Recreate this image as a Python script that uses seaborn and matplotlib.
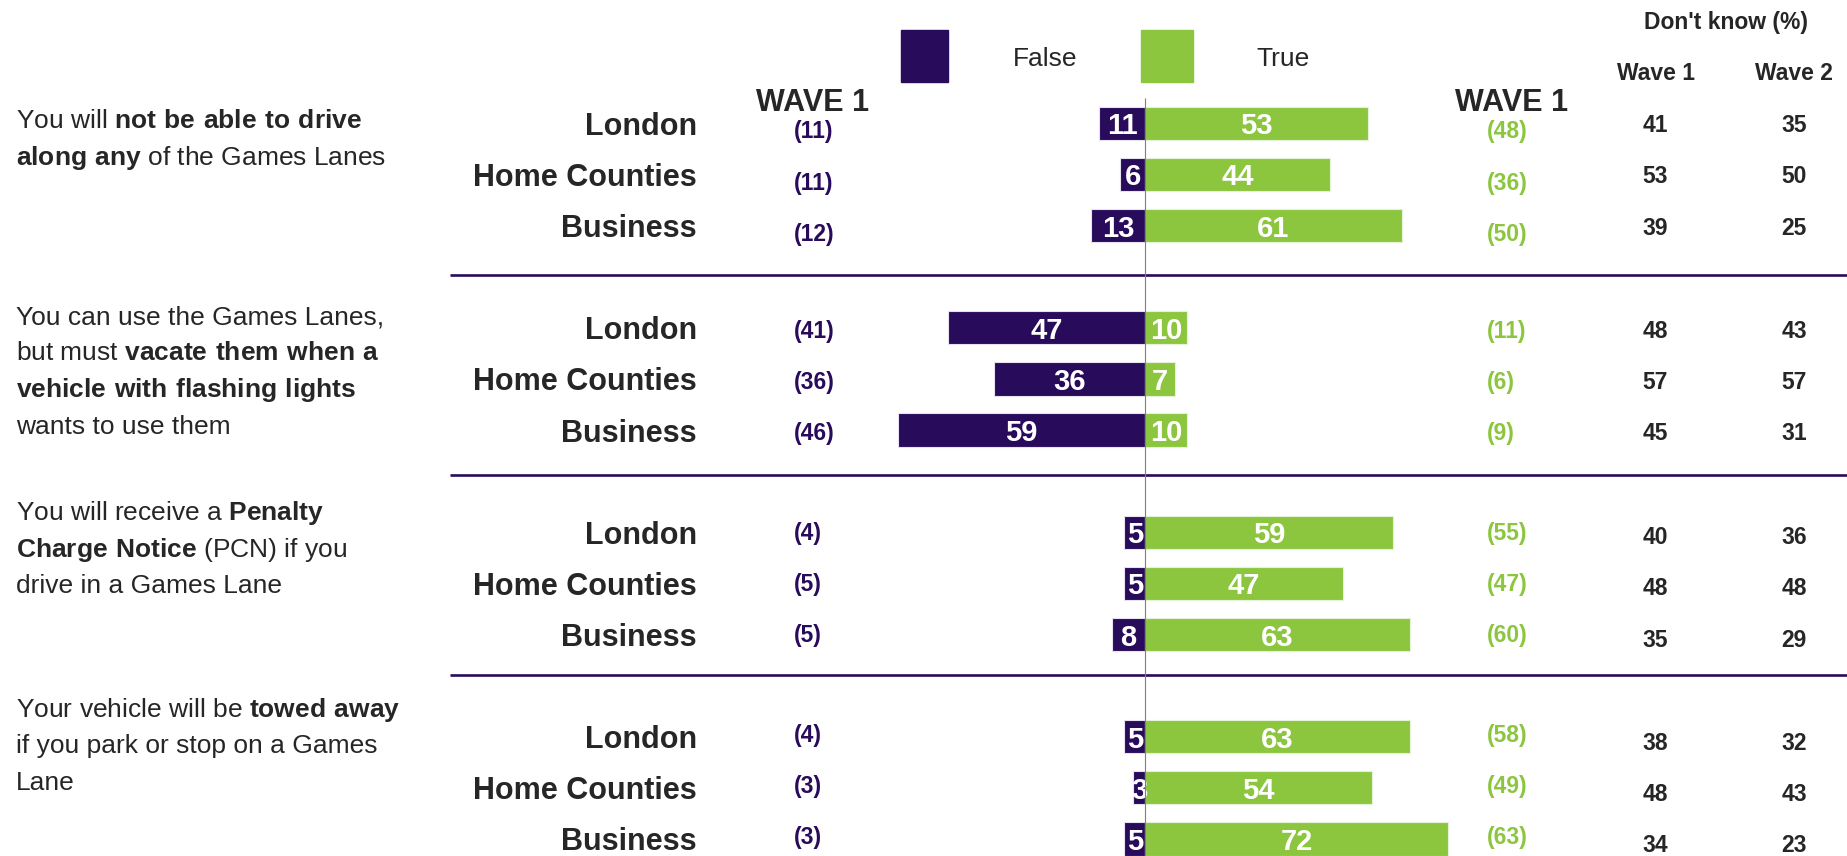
import matplotlib
matplotlib.use("Agg")
import matplotlib.pyplot as plt
from matplotlib.patches import Rectangle
import pandas as pd
import seaborn as sns

# Games Lanes awareness - wave 2 bars, wave 1 in brackets, don't know on the right
categories = ["London", "Home Counties", "Business"] * 4
false_w2 = [11, 6, 13, 47, 36, 59, 5, 5, 8, 5, 3, 5]
true_w2 = [53, 44, 61, 10, 7, 10, 59, 47, 63, 63, 54, 72]
false_w1 = [11, 11, 12, 41, 36, 46, 4, 5, 5, 4, 3, 3]
true_w1 = [48, 36, 50, 11, 6, 9, 55, 47, 60, 58, 49, 63]
dk_w1 = [41, 53, 39, 48, 57, 45, 40, 48, 35, 38, 48, 34]
dk_w2 = [35, 50, 25, 43, 57, 31, 36, 48, 29, 32, 43, 23]

statements = [
    ["You will $\\mathbf{not\\ be\\ able\\ to\\ drive}$",
     "$\\mathbf{along\\ any}$ of the Games Lanes"],
    ["You can use the Games Lanes,",
     "but must $\\mathbf{vacate\\ them\\ when\\ a}$",
     "$\\mathbf{vehicle\\ with\\ flashing\\ lights}$",
     "wants to use them"],
    ["You will receive a $\\mathbf{Penalty}$",
     "$\\mathbf{Charge\\ Notice}$ (PCN) if you",
     "drive in a Games Lane"],
    ["Your vehicle will be $\\mathbf{towed\\ away}$",
     "if you park or stop on a Games",
     "Lane"],
]

PURPLE = "#290b5b"
GREEN = "#8cc63f"

sns.set_style("white")
plt.rcParams["font.family"] = ["Liberation Sans", "DejaVu Sans"]
plt.rcParams["mathtext.fontset"] = "custom"
plt.rcParams["mathtext.rm"] = "Liberation Sans"
plt.rcParams["mathtext.bf"] = "Liberation Sans:bold"

W, H = 1847, 856
X0, PX = 1145.3, 4.2      # centre line (px) and px per percent
Y0, ROW = 123.3, 51.12    # first row centre (px) and row pitch


def dx(p):
    return (p - X0) / PX


def dy(p):
    return (p - Y0) / ROW


pos = [g * 4 + r for g in range(4) for r in range(3)]
df = pd.DataFrame({"pos": pos, "category": categories,
                   "False": [-v for v in false_w2], "True": true_w2})

fig = plt.figure(figsize=(W / 100, H / 100), dpi=100)
ax = fig.add_axes([0, 0, 1, 1])

sns.barplot(data=df, x="False", y="pos", orient="y", native_scale=True, width=0.65,
            color=PURPLE, saturation=1, edgecolor="#e6e2ee", linewidth=0.8,
            errorbar=None, ax=ax)
sns.barplot(data=df, x="True", y="pos", orient="y", native_scale=True, width=0.65,
            color=GREEN, saturation=1, edgecolor="#e6f2d8", linewidth=0.8,
            errorbar=None, ax=ax)

for c in ax.containers:
    anns = ax.bar_label(c, labels=[f"{abs(v):.0f}" for v in c.datavalues],
                        label_type="center", color="white", fontsize=21, fontweight="bold")
    for t in anns:
        t.set_verticalalignment("center_baseline")

ax.set_xlim(dx(0), dx(W))
ax.set_ylim(dy(H), dy(0))
ax.axis("off")

# centre line and group dividers
ax.vlines(0, dy(98), dy(H), color="#7f7f7f", lw=0.8, zorder=5)
ax.hlines([dy(275), dy(475), dy(675)], dx(450), dx(W), color=PURPLE, lw=1.9)

wave_dy = [0.12, 0.02, -0.02, -0.07]
dk_dy = [0.0, 0.02, 0.06, 0.08]
for i, p in enumerate(pos):
    g = i // 3
    ax.text(dx(697), p, categories[i], ha="right", va="center_baseline",
            fontsize=22, fontweight="bold")
    ax.text(dx(794), p + wave_dy[g], f"({false_w1[i]})", ha="left", va="center_baseline",
            fontsize=16.5, fontweight="bold", color=PURPLE)
    ax.text(dx(1487), p + wave_dy[g], f"({true_w1[i]})", ha="left", va="center_baseline",
            fontsize=16.5, fontweight="bold", color=GREEN)
    ax.text(dx(1655), p + dk_dy[g], str(dk_w1[i]), ha="center", va="center_baseline",
            fontsize=16.5, fontweight="bold")
    ax.text(dx(1794), p + dk_dy[g], str(dk_w2[i]), ha="center", va="center_baseline",
            fontsize=16.5, fontweight="bold")

# statements on the left
first_base = [128.5, 324, 520, 716.7]
for g, lines in enumerate(statements):
    for k, line in enumerate(lines):
        fig.text(16 / W, 1 - (first_base[g] + k * 36.5) / H, line,
                 ha="left", va="baseline", fontsize=19)

# headers
for xc in [813, 1512]:
    fig.text(xc / W, 1 - 99.5 / H, "WAVE 1", ha="center", va="center_baseline",
             fontsize=22, fontweight="bold")
fig.text(1726 / W, 1 - 20 / H, "Don't know (%)", ha="center", va="center_baseline",
         fontsize=16.5, fontweight="bold")
fig.text(1656 / W, 1 - 71.5 / H, "Wave 1", ha="center", va="center_baseline",
         fontsize=16.5, fontweight="bold")
fig.text(1794 / W, 1 - 71.5 / H, "Wave 2", ha="center", va="center_baseline",
         fontsize=16.5, fontweight="bold")

# legend
fig.add_artist(Rectangle((901 / W, 1 - 82 / H), 47 / W, 52 / H,
                         transform=fig.transFigure, color=PURPLE))
fig.add_artist(Rectangle((1141 / W, 1 - 82 / H), 52 / W, 52 / H,
                         transform=fig.transFigure, color=GREEN))
fig.text(1045 / W, 1 - 56 / H, "False", ha="center", va="center_baseline", fontsize=19)
fig.text(1283 / W, 1 - 56 / H, "True", ha="center", va="center_baseline", fontsize=19)

plt.savefig("out.png", dpi=100)
